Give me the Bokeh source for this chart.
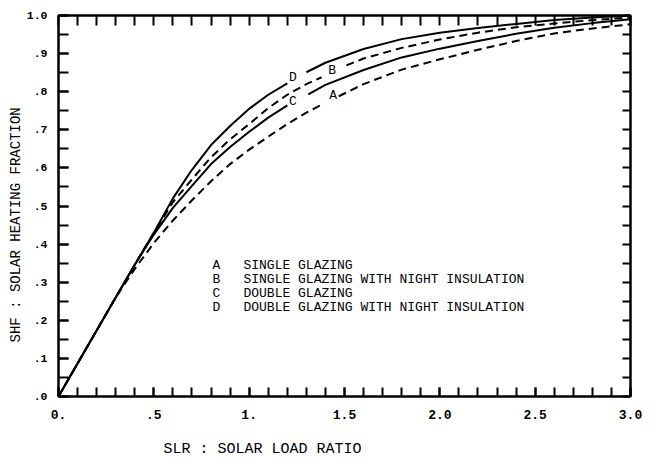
import numpy as np
from bokeh.plotting import figure
from bokeh.models import Range1d, FixedTicker, LinearAxis, Title
from bokeh.core.properties import value
from bokeh.embed import file_html
from bokeh.resources import INLINE

NaN = float("nan")

# ---- data ----
# D: double glazing with night insulation (solid)
d_x = [0.0, 0.30, 0.40, 0.50, 0.60, 0.70, 0.80, 0.90, 1.00, 1.10, 1.20, NaN,
       1.30, 1.40, 1.60, 1.80, 2.00, 2.20, 2.40, 2.60, 2.80, 3.00]
d_y = [0.0, 0.260, 0.346, 0.430, 0.520, 0.595, 0.660, 0.710, 0.755, 0.792, 0.822, NaN,
       0.851, 0.876, 0.912, 0.938, 0.955, 0.967, 0.978, 0.988, 0.995, 1.000]
# B: single glazing with night insulation (dashed)
b_x = [0.0, 0.30, 0.40, 0.50, 0.60, 0.70, 0.80, 0.90, 1.00, 1.10, 1.20, 1.30, 1.38, NaN,
       1.51, 1.60, 1.80, 2.00, 2.20, 2.40, 2.60, 2.80, 3.00]
b_y = [0.0, 0.260, 0.346, 0.430, 0.510, 0.570, 0.628, 0.675, 0.715, 0.757, 0.792, 0.820, 0.838, NaN,
       0.869, 0.887, 0.915, 0.937, 0.955, 0.969, 0.979, 0.988, 0.995]
# C: double glazing (solid)
c_x = [0.0, 0.30, 0.40, 0.50, 0.60, 0.70, 0.80, 0.90, 1.00, 1.10, 1.20, NaN,
       1.31, 1.40, 1.60, 1.80, 2.00, 2.20, 2.40, 2.60, 2.80, 3.00]
c_y = [0.0, 0.260, 0.346, 0.425, 0.495, 0.553, 0.610, 0.655, 0.695, 0.732, 0.764, NaN,
       0.793, 0.818, 0.857, 0.890, 0.913, 0.933, 0.952, 0.968, 0.980, 0.990]
# A: single glazing (dashed)
a_x = [0.0, 0.30, 0.40, 0.50, 0.60, 0.70, 0.80, 0.90, 1.00, 1.10, 1.20, 1.30, 1.38, NaN,
       1.47, 1.60, 1.80, 2.00, 2.20, 2.40, 2.60, 2.80, 3.00]
a_y = [0.0, 0.260, 0.335, 0.403, 0.462, 0.515, 0.565, 0.610, 0.648, 0.682, 0.715, 0.745, 0.766, NaN,
       0.788, 0.820, 0.858, 0.885, 0.910, 0.933, 0.953, 0.966, 0.977]

curve_letters = ["D", "C", "B", "A"]
curve_letter_x = [1.229, 1.229, 1.435, 1.440]
curve_letter_y = [0.838, 0.775, 0.856, 0.790]

legend_letters = ["A", "B", "C", "D"]
legend_texts = ["SINGLE GLAZING",
                "SINGLE GLAZING WITH NIGHT INSULATION",
                "DOUBLE GLAZING",
                "DOUBLE GLAZING WITH NIGHT INSULATION"]

x_major = [0.0, 0.5, 1.0, 1.5, 2.0, 2.5, 3.0]
x_labels = ["0.", ".5", "1.", "1.5", "2.0", "2.5", "3.0"]
x_minor = [round(i * 0.1, 1) for i in range(31)]
y_major = [round(i * 0.1, 1) for i in range(11)]
y_labels = [".0", ".1", ".2", ".3", ".4", ".5", ".6", ".7", ".8", ".9", "1.0"]
y_minor = [round(i * 0.05, 2) for i in range(21)]

x_title = "SLR : SOLAR LOAD RATIO"
y_title = "SHF : SOLAR HEATING FRACTION"

FONT = "Liberation Mono"

p = figure(width=655, height=474, x_range=Range1d(0, 3), y_range=Range1d(0, 1),
           output_backend="svg", toolbar_location=None,
           min_border_left=58, min_border_right=25, min_border_top=15, min_border_bottom=78)
p.xgrid.visible = False
p.ygrid.visible = False
p.outline_line_color = "black"
p.outline_line_width = 2
p.background_fill_color = "white"
p.border_fill_color = "white"

def style_axis(ax, tick_len):
    ax.axis_line_color = "black"
    ax.axis_line_width = 2
    ax.major_tick_line_color = "black"
    ax.major_tick_line_width = 2
    ax.minor_tick_line_color = "black"
    ax.minor_tick_line_width = 2
    ax.major_tick_in = tick_len
    ax.major_tick_out = 0
    ax.minor_tick_in = tick_len
    ax.minor_tick_out = 0
    ax.major_label_text_font = FONT
    ax.major_label_text_font_size = "12px"
    ax.major_label_text_font_style = "bold"
    ax.major_label_text_color = "black"

xa = p.xaxis[0]
xa.ticker = FixedTicker(ticks=x_major, minor_ticks=x_minor)
xa.major_label_overrides = {v: s for v, s in zip(x_major, x_labels)}
xa.major_label_standoff = 13
style_axis(xa, 9)
xa.major_label_text_font_size = "13px"

ya = p.yaxis[0]
ya.ticker = FixedTicker(ticks=y_major, minor_ticks=y_minor)
ya.major_label_overrides = {v: s for v, s in zip(y_major, y_labels)}
ya.major_label_standoff = 11
style_axis(ya, 10)
ya.major_label_text_font_size = "11.5px"

top = LinearAxis(ticker=FixedTicker(ticks=[], minor_ticks=x_minor))
style_axis(top, 10)
p.add_layout(top, "above")

right = LinearAxis(ticker=FixedTicker(ticks=[], minor_ticks=y_minor))
style_axis(right, 8)
p.add_layout(right, "right")

# curves
p.line(np.array(d_x), np.array(d_y), line_color="black", line_width=2)
p.line(np.array(c_x), np.array(c_y), line_color="black", line_width=2)
p.line(np.array(b_x), np.array(b_y), line_color="black", line_width=2, line_dash="8 5")
p.line(np.array(a_x), np.array(a_y), line_color="black", line_width=2, line_dash="8 5")

# curve letters
p.text(x=curve_letter_x, y=curve_letter_y, text=curve_letters, text_font=value(FONT),
       text_font_size="13px", text_align="center", text_baseline="middle", text_color="black")

# legend block
n = len(legend_letters)
leg_y = [0.344 - i * 0.0367 for i in range(n)]
p.text(x=[0.808] * n, y=leg_y, text=legend_letters, text_font=value(FONT),
       text_font_size="13px", text_align="left", text_baseline="middle", text_color="black")
p.text(x=[0.97] * n, y=leg_y, text=legend_texts, text_font=value(FONT),
       text_font_size="13px", text_align="left", text_baseline="middle", text_color="black")

# axis titles
xt = Title(text=x_title, align="left", offset=105, text_font=FONT, text_font_size="15px",
           text_font_style="normal", text_color="black")
xt.standoff = 34
p.add_layout(xt, "below")
yt = Title(text=y_title, align="left", offset=54, text_font=FONT, text_font_size="14px",
           text_font_style="normal", text_color="black")
yt.standoff = 0
p.add_layout(yt, "left")

open("out.html", "w").write(file_html(p, INLINE))
